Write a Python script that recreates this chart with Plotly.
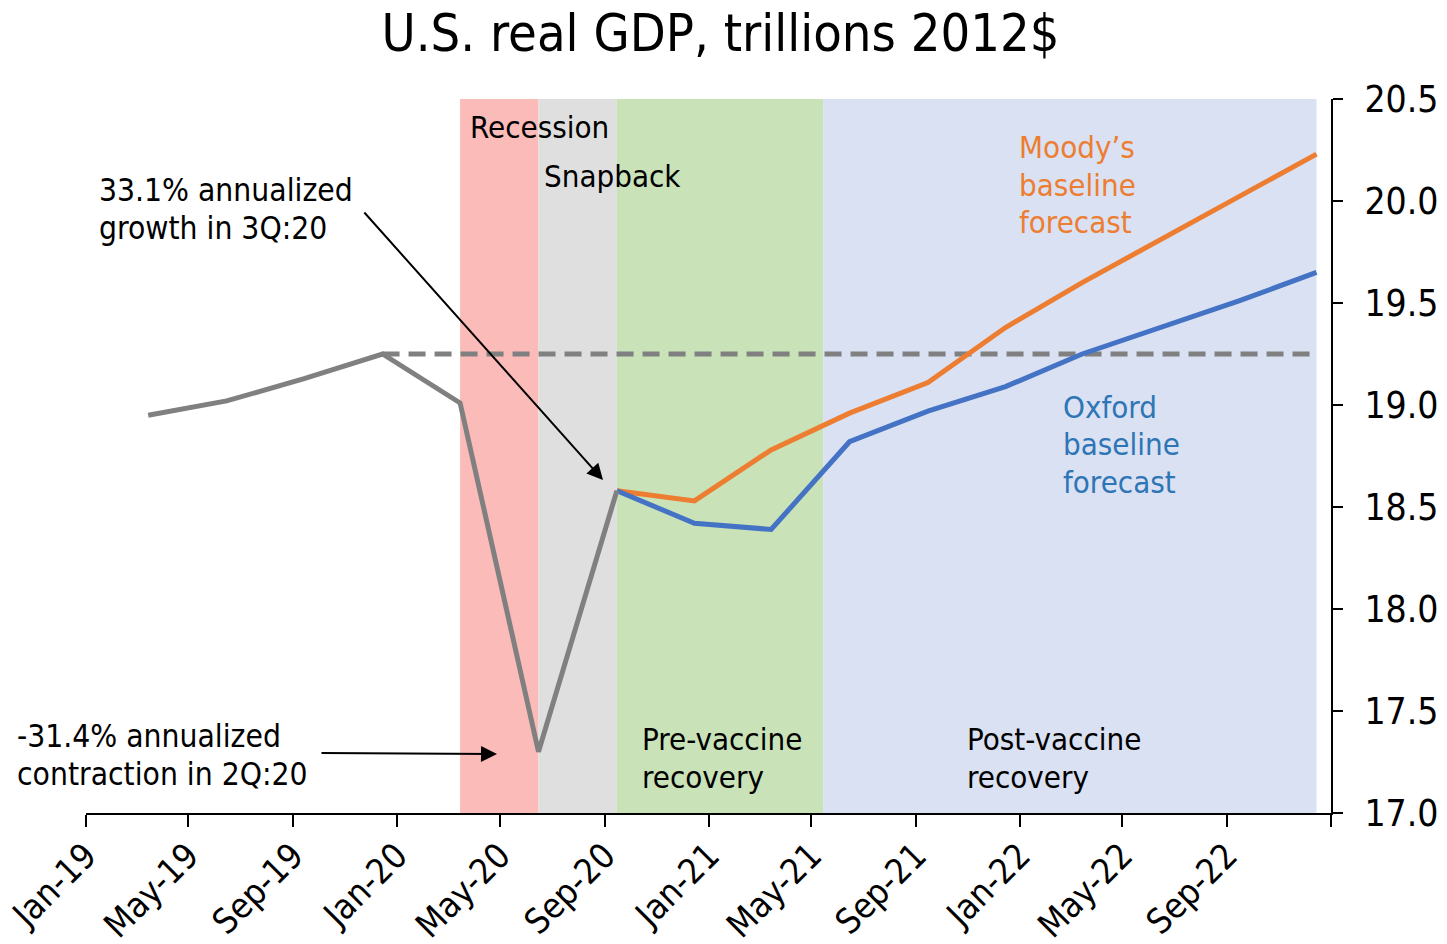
import plotly.graph_objects as go

# ---------------- data ----------------
hist_dates = ["2019-03-15", "2019-06-15", "2019-09-15", "2019-12-15",
              "2020-03-15", "2020-06-15", "2020-09-15"]
hist_gdp = [18.95, 19.02, 19.13, 19.25, 19.01, 17.30, 18.58]

fc_dates = ["2020-09-15", "2020-12-15", "2021-03-15", "2021-06-15",
            "2021-09-15", "2021-12-15", "2022-03-15", "2022-06-15",
            "2022-09-15", "2022-12-15"]
moodys = [18.58, 18.53, 18.78, 18.96, 19.11, 19.38, 19.60, 19.81, 20.02, 20.23]
oxford = [18.58, 18.42, 18.39, 18.82, 18.97, 19.09, 19.25, 19.38, 19.51, 19.65]

peak_dates = ["2019-12-15", "2022-12-10"]
peak_level = [19.25, 19.25]

phase_names = ["Recession", "Snapback", "Pre-vaccine recovery", "Post-vaccine recovery"]
phase_start = ["2020-03-15", "2020-06-15", "2020-09-15", "2021-05-15"]
phase_end = ["2020-06-15", "2020-09-15", "2021-05-15", "2022-12-15"]
phase_colors = ["#FBBBB9", "#E0DFDF", "#C9E2B8", "#D9E1F2"]

tick_vals = ["2019-01-01", "2019-05-01", "2019-09-01", "2020-01-01", "2020-05-01",
             "2020-09-01", "2021-01-01", "2021-05-01", "2021-09-01", "2022-01-01",
             "2022-05-01", "2022-09-01", "2023-01-01"]
tick_text = ["Jan-19", "May-19", "Sep-19", "Jan-20", "May-20", "Sep-20", "Jan-21",
             "May-21", "Sep-21", "Jan-22", "May-22", "Sep-22", ""]

# ---------------- layout helpers ----------------
W, H = 1447, 944
L, R, T, B = 86, 1331, 99, 813
FONT = "DejaVu Sans Condensed, DejaVu Sans, sans-serif"
LINE_GAP = 37.5


def px(xp):
    return (xp - L) / (R - L)


def py(yp):
    return (B - yp) / (B - T)


fig = go.Figure()

for s, e, c in zip(phase_start, phase_end, phase_colors):
    fig.add_shape(type="rect", xref="x", yref="y", x0=s, x1=e, y0=17, y1=20.5,
                  fillcolor=c, line_width=0, layer="below")

fig.add_trace(go.Scatter(x=peak_dates, y=peak_level, mode="lines",
                         line=dict(color="#808080", width=5, dash="17px,9px"),
                         hoverinfo="skip"))
fig.add_trace(go.Scatter(x=fc_dates, y=moodys, mode="lines",
                         line=dict(color="#ED7D31", width=5)))
fig.add_trace(go.Scatter(x=fc_dates, y=oxford, mode="lines",
                         line=dict(color="#4472C4", width=5)))
fig.add_trace(go.Scatter(x=hist_dates, y=hist_gdp, mode="lines",
                         line=dict(color="#808080", width=5)))

ann = []


def text(xp, yp, lines, color="black", size=31):
    for i, t in enumerate(lines):
        ann.append(dict(xref="paper", yref="paper", x=px(xp), y=py(yp + i * LINE_GAP),
                        text=t, showarrow=False, xanchor="left", yanchor="middle",
                        align="left", font=dict(family=FONT, size=size, color=color)))


text(468, 127, [phase_names[0]])
text(542, 176, [phase_names[1]])
text(640, 739, ["Pre-vaccine", "recovery"])
text(965, 739, ["Post-vaccine", "recovery"])
text(1017, 147, ["Moody’s", "baseline", "forecast"], color="#ED7D31")
text(1061, 407, ["Oxford", "baseline", "forecast"], color="#2E75B6")
text(97, 190, ["33.1% annualized", "growth in 3Q:20"], size=31.5)
text(15, 736, ["-31.4% annualized", "contraction in 2Q:20"], size=31.5)

# arrows
for (hx, hy, tx, ty) in [(603, 480, 363, 211), (497, 754, 320, 753)]:
    ann.append(dict(xref="paper", yref="paper", x=px(hx), y=py(hy), text="",
                    showarrow=True, axref="pixel", ayref="pixel",
                    ax=tx - hx, ay=ty - hy, arrowhead=2, arrowsize=1.6,
                    arrowwidth=2, arrowcolor="black", standoff=0))

fig.update_layout(
    width=W, height=H,
    margin=dict(l=L, r=W - R, t=T, b=H - B, pad=0, autoexpand=False),
    plot_bgcolor="white", paper_bgcolor="white",
    showlegend=False,
    font=dict(family=FONT, color="black"),
    title=dict(text="U.S. real GDP, trillions 2012$", x=720.5 / W, xref="container",
               xanchor="center", y=1 - 33 / H, yref="container", yanchor="middle",
               font=dict(family=FONT, size=52, color="black")),
    annotations=ann,
    xaxis=dict(type="date", range=["2019-01-01", "2023-01-01"], automargin=False,
               tickmode="array", tickvals=tick_vals, ticktext=tick_text,
               tickangle=-45, ticks="outside", ticklen=12, tickwidth=2,
               tickcolor="black", showline=True, linecolor="black", linewidth=2,
               showgrid=False, zeroline=False, ticklabelstandoff=-6,
               ticklabeloverflow="allow",
               tickfont=dict(family=FONT, size=35, color="black")),
    yaxis=dict(range=[17, 20.5], side="right", dtick=0.5, tickformat=".1f",
               automargin=False,
               ticks="outside", ticklen=10, tickwidth=2, tickcolor="black",
               showline=True, linecolor="black", linewidth=2, showgrid=False,
               zeroline=False, ticklabelstandoff=14,
               tickfont=dict(family=FONT, size=37, color="black")),
)

fig.write_html("out.html")
